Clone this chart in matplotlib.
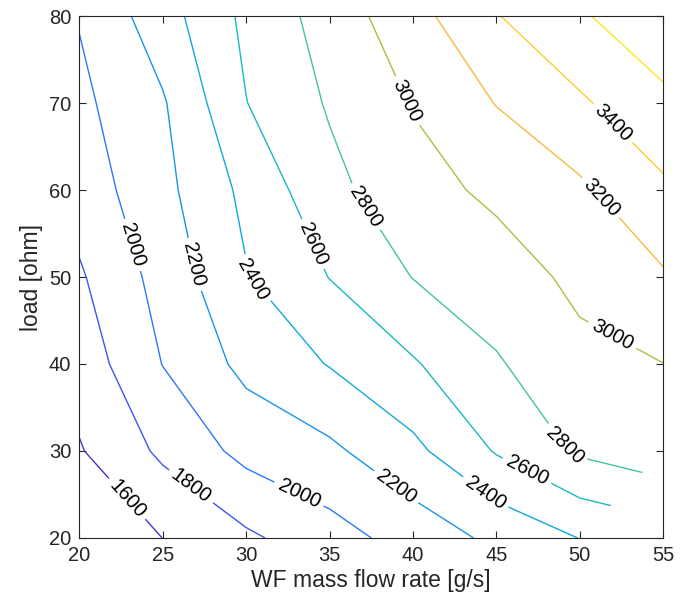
import numpy as np
import matplotlib
matplotlib.use("Agg")
import matplotlib.pyplot as plt
from matplotlib.colors import LinearSegmentedColormap

plt.rcParams['font.family'] = ['Liberation Sans', 'DejaVu Sans']

# Sampled grid: working-fluid mass flow rate [g/s] and electrical load [ohm]
flow_rate = [20, 25, 30, 35, 40, 45, 50, 55]
load = [20, 30, 40, 50, 60, 70, 80]

# Response on the grid, one row per load value (NaN = no operating point)
z_load20 = [1480, 1601, 1765, 1920, 2080, 2245, 2404, np.nan]
z_load30 = [1585, 1839, 2059, 2160, 2350, 2616, 2830, 2930]
z_load40 = [1685, 2005, 2255, 2410, 2580, 2780, 2950, 2998]
z_load50 = [1776, 2074, 2388, 2605, 2805, 2910, 3043, 3178]
z_load60 = [1887, 2144, 2449, 2744, 2931, 3039, 3165, 3363]
z_load70 = [1955, 2180, 2596, 2820, 3012, 3207, 3371, 3555]
z_load80 = [2012, 2315, 2645, 2886, 3130, 3390, 3577, 3741]

levels = [1600, 1800, 2000, 2200, 2400, 2600, 2800, 3000, 3200, 3400, 3600]

# Where each inline label sits (flow rate, load)
label_positions = [
    (22.8, 24.4), (26.6, 25.7), (33.1, 24.8), (23.2, 53.7), (26.8, 51.4),
    (39.0, 25.9), (30.5, 49.8), (44.3, 25.1), (33.9, 53.7), (46.8, 27.6),
    (37.0, 57.9), (49.3, 30.9), (39.4, 70.0), (51.9, 43.1), (51.2, 59.0),
    (51.9, 67.5),
]

# parula-like colormap
parula_anchors = [
    (0.00, (0.2422, 0.1504, 0.6603)),
    (0.10, (0.2760, 0.2680, 0.9250)),
    (0.20, (0.2000, 0.4300, 0.9900)),
    (0.30, (0.1100, 0.5600, 0.9400)),
    (0.40, (0.0500, 0.6600, 0.8700)),
    (0.50, (0.1000, 0.7300, 0.7500)),
    (0.60, (0.3000, 0.7800, 0.5300)),
    (0.67, (0.6300, 0.7600, 0.2600)),
    (0.75, (0.9700, 0.7200, 0.2500)),
    (0.85, (0.9950, 0.8000, 0.2000)),
    (0.94, (0.9750, 0.9100, 0.1200)),
    (1.00, (0.9769, 0.9839, 0.0805)),
]
parula = LinearSegmentedColormap.from_list("parula", parula_anchors)

X, Y = np.meshgrid(flow_rate, load)
Z = np.ma.masked_invalid(np.array([z_load20, z_load30, z_load40, z_load50,
                                   z_load60, z_load70, z_load80], dtype=float))

fig = plt.figure(figsize=(6.9, 6.09), dpi=100)
ax = fig.add_axes([0.1152, 0.1166, 0.961 - 0.1152, 0.9737 - 0.1166])

cs = ax.contour(X, Y, Z, levels=levels, cmap=parula, linewidths=1.0,
                vmin=Z.min(), vmax=Z.max(), corner_mask=True)
ax.clabel(cs, inline=True, fontsize=14.5, fmt='%d', colors='black',
          manual=label_positions, inline_spacing=5)

ax.set_xlim(20, 55)
ax.set_ylim(20, 80)
ax.set_xticks([20, 25, 30, 35, 40, 45, 50, 55])
ax.set_yticks([20, 30, 40, 50, 60, 70, 80])
ax.tick_params(direction='in', length=5, width=0.8, top=True, right=True,
               labelsize=14.5, colors='#262626', pad=6)
for s in ax.spines.values():
    s.set_color('#262626')
    s.set_linewidth(0.8)

ax.set_xlabel('WF mass flow rate [g/s]', fontsize=16.5, color='#262626', labelpad=3)
ax.set_ylabel('load [ohm]', fontsize=16.5, color='#262626', labelpad=4)

fig.savefig('out.png', dpi=100)
